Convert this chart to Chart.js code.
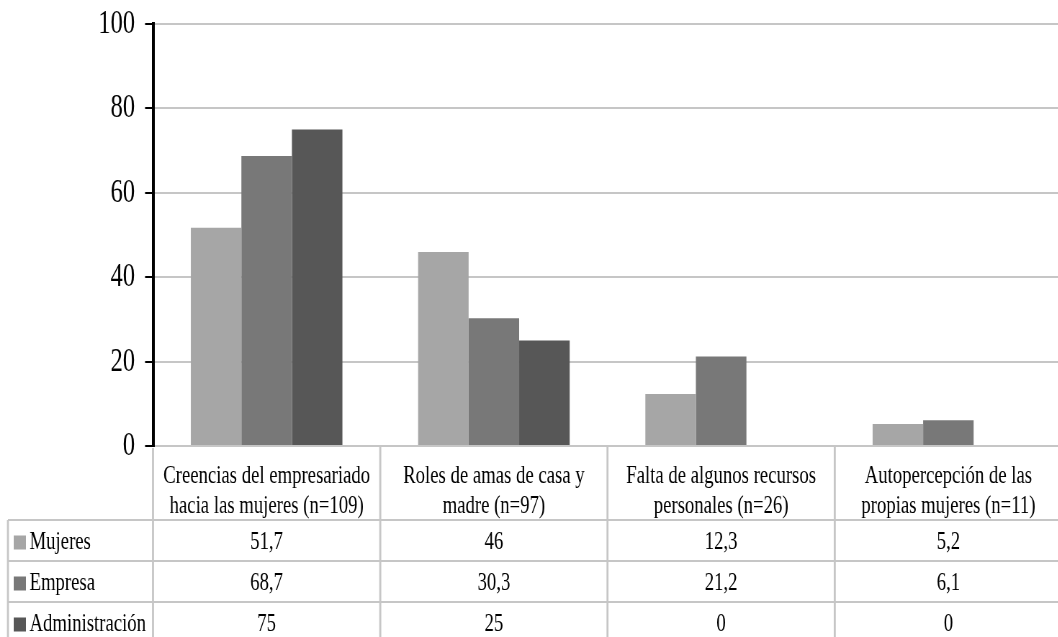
<!DOCTYPE html>
<html>
<head>
<meta charset="utf-8">
<script src="https://cdn.jsdelivr.net/npm/chart.js@4.4.0/dist/chart.umd.min.js"></script>
<style>
  html, body { margin: 0; padding: 0; background: #fff; overflow: hidden; }
  #wrap { width: 1475px; height: 637px; transform: scaleX(0.72); transform-origin: 0 0; }
</style>
</head>
<body>
<div id="wrap"><canvas id="chart" width="1475" height="637"></canvas></div>
<script>
const categories = [
  ['Creencias del empresariado', 'hacia las mujeres (n=109)'],
  ['Roles de amas de casa y', 'madre (n=97)'],
  ['Falta de algunos recursos', 'personales (n=26)'],
  ['Autopercepción de las', 'propias mujeres (n=11)']
];
const seriesNames = ['Mujeres', 'Empresa', 'Administración'];
const mujeres = [51.7, 46, 12.3, 5.2];
const empresa = [68.7, 30.3, 21.2, 6.1];
const administracion = [75, 25, 0, 0];
const colors = ['#a6a6a6', '#787878', '#575757'];
const yTicks = [0, 20, 40, 60, 80, 100];

const FONT = '"Liberation Serif", "Times New Roman", serif';
const GRID = '#c6c6c6';

const fmt = v => String(v).replace('.', ',');

// draws the data table under the x axis
const dataTable = {
  id: 'dataTable',
  afterDraw(chart) {
    const { ctx, chartArea } = chart;
    const x = chart.scales.x;
    const n = categories.length;
    const colW = (x.right - x.left) / n;
    const top = chartArea.bottom;
    const rowTop = top + 74;
    const rowH = 41;
    const bottom = chart.height + 5;
    const tableLeft = 11;

    ctx.save();
    ctx.strokeStyle = GRID;
    ctx.lineWidth = 2;
    ctx.beginPath();
    for (let r = 0; r < 3; r++) {
      const y = rowTop + r * rowH;
      ctx.moveTo(tableLeft, y);
      ctx.lineTo(x.right + 5, y);
    }
    ctx.stroke();

    ctx.lineWidth = 2.8;
    ctx.beginPath();
    for (let k = 0; k < n; k++) {
      const xx = x.left + k * colW;
      ctx.moveTo(xx, k === 0 ? top + 2 : top);
      ctx.lineTo(xx, bottom);
    }
    ctx.moveTo(tableLeft, rowTop);
    ctx.lineTo(tableLeft, bottom);
    ctx.stroke();

    ctx.font = '26px ' + FONT;
    ctx.fillStyle = '#000';
    ctx.textBaseline = 'middle';
    chart.data.datasets.forEach((ds, i) => {
      const cy = rowTop + i * rowH + rowH / 2 + 2;
      ctx.fillStyle = ds.backgroundColor;
      ctx.fillRect(19, cy - 7, 17, 14);
      ctx.fillStyle = '#000';
      ctx.textAlign = 'left';
      ctx.fillText(ds.label, 41, cy);
      ctx.textAlign = 'center';
      ds.data.forEach((v, j) => {
        ctx.fillText(fmt(v), x.getPixelForValue(j), cy);
      });
    });
    ctx.restore();
  }
};

new Chart(document.getElementById('chart'), {
  type: 'bar',
  data: {
    labels: categories,
    datasets: [
      { label: seriesNames[0], data: mujeres, backgroundColor: colors[0] },
      { label: seriesNames[1], data: empresa, backgroundColor: colors[1] },
      { label: seriesNames[2], data: administracion, backgroundColor: colors[2] }
    ]
  },
  options: {
    responsive: false,
    animation: false,
    devicePixelRatio: 1,
    layout: { padding: { top: 24, left: 0, right: 0, bottom: 0 } },
    datasets: { bar: { categoryPercentage: 0.667, barPercentage: 1 } },
    plugins: {
      legend: { display: false },
      tooltip: { enabled: false }
    },
    scales: {
      x: {
        grid: { display: false, drawTicks: false, tickLength: 0 },
        border: { display: false },
        ticks: {
          color: '#000',
          font: { family: FONT, size: 26, lineHeight: 1.15 },
          padding: 15,
          maxRotation: 0,
          autoSkip: false
        },
        afterFit(scale) { scale.height = 191; }
      },
      y: {
        min: 0,
        max: 100,
        afterBuildTicks(scale) { scale.ticks = yTicks.map(v => ({ value: v })); },
        grid: { color: GRID, lineWidth: 2, tickColor: '#000', tickLength: 11 },
        border: { color: '#000', width: 4 },
        ticks: {
          color: '#000',
          font: { family: FONT, size: 34 },
          padding: 14
        },
        afterFit(scale) {
          scale.width = 212.5;
          scale.paddingTop = 0;
          scale.paddingBottom = 0;
        }
      }
    }
  },
  plugins: [dataTable]
});
</script>
</body>
</html>
